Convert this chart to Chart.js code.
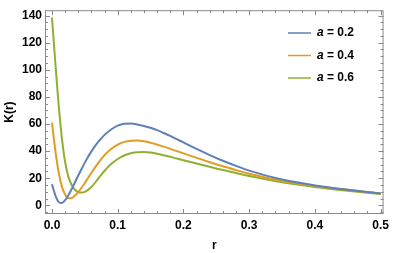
<!DOCTYPE html>
<html>
<head>
<meta charset="utf-8">
<script src="https://cdn.jsdelivr.net/npm/chart.js@4"></script>
<style>
  html, body { margin: 0; padding: 0; background: #fff; }
  #wrap { width: 393px; height: 253px; }
</style>
</head>
<body>
<div id="wrap"><canvas id="grafico"></canvas></div>
<script>
// valores
const rVals = [0, 0.005, 0.01, 0.015, 0.02, 0.025, 0.03, 0.035, 0.04, 0.045, 0.05, 0.06, 0.07, 0.08, 0.09, 0.1,
  0.11, 0.12, 0.13, 0.14, 0.15, 0.16, 0.17, 0.18, 0.19, 0.2, 0.22, 0.24, 0.26, 0.28, 0.3, 0.35, 0.4, 0.45, 0.5];
const kA02 = [15.5, 7.5, 2.6, 1.7, 3.8, 7.5, 12, 17, 22, 26.8, 31.5, 39.8, 46.6, 52, 56, 58.8,
  60.2, 60.4, 59.7, 58.6, 57.2, 55.5, 53.4, 51.2, 48.8, 46.4, 41.6, 37.1, 32.9, 29.1, 25.6, 19, 14.7, 11.5, 8.8];
const kA04 = [61, 41, 25, 14, 8, 5.2, 5.4, 7.2, 9.8, 13, 16.5, 24, 31, 37, 41.5, 44.8,
  46.8, 47.7, 47.8, 47.3, 46.2, 44.8, 43.3, 41.7, 40, 38.3, 35, 31.8, 28.8, 26, 23.3, 18, 14.3, 11.5, 8.7];
const kA06 = [138.5, 106, 75, 50, 32, 21, 15, 11.5, 9.8, 9.4, 9.9, 13.5, 19.5, 25.5, 30.5, 34.2,
  36.8, 38.4, 39.2, 39.3, 38.9, 38.1, 37, 35.8, 34.6, 33.3, 30.8, 28.4, 26, 23.8, 21.6, 17, 13.6, 10.8, 8.3];
const aVals = [0.2, 0.4, 0.6];
const cores = ['#5E81B5', '#E19C24', '#8FB032'];
const xTicks = [0, 0.1, 0.2, 0.3, 0.4, 0.5];
const yTicks = [0, 20, 40, 60, 80, 100, 120, 140];

const FONTE = '"Liberation Sans", Arial, sans-serif';
const series = [kA02, kA04, kA06];

const datasets = series.map((vals, i) => ({
    label: `a = ${aVals[i]}`,
    data: rVals.map((r, j) => ({ x: r, y: vals[j] })),
    borderColor: cores[i],
    borderWidth: 2,
    pointRadius: 0,
    fill: false,
    cubicInterpolationMode: 'monotone'
}));

// --- moldura com ticks internos (estilo Mathematica) ---
const molduraPlugin = {
    id: 'moldura',
    afterDraw(chart) {
        const { ctx, chartArea: a, scales: { x, y } } = chart;
        ctx.save();
        ctx.strokeStyle = '#8a8a8a';
        ctx.lineWidth = 1;
        ctx.strokeRect(a.left + 0.5, a.top + 0.5, a.width - 1, a.height - 1);

        const tickX = (v, len) => {
            const px = Math.round(x.getPixelForValue(v)) + 0.5;
            if (px < a.left || px > a.right) return;
            ctx.beginPath();
            ctx.moveTo(px, a.bottom); ctx.lineTo(px, a.bottom - len);
            ctx.moveTo(px, a.top); ctx.lineTo(px, a.top + len);
            ctx.stroke();
        };
        const tickY = (v, len) => {
            const py = Math.round(y.getPixelForValue(v)) + 0.5;
            if (py < a.top || py > a.bottom) return;
            ctx.beginPath();
            ctx.moveTo(a.left, py); ctx.lineTo(a.left + len, py);
            ctx.moveTo(a.right, py); ctx.lineTo(a.right - len, py);
            ctx.stroke();
        };
        const xStep = xTicks[1] - xTicks[0];
        for (let i = -1; i < xTicks.length; i++) {
            const base = i < 0 ? xTicks[0] - xStep : xTicks[i];
            if (i >= 0) tickX(base, 5);
            for (let k = 1; k < 5; k++) tickX(base + k * xStep / 5, 3);
        }
        const yStep = yTicks[1] - yTicks[0];
        for (let i = -1; i < yTicks.length; i++) {
            const base = i < 0 ? yTicks[0] - yStep : yTicks[i];
            if (i >= 0) tickY(base, 5);
            for (let k = 1; k < 4; k++) tickY(base + k * yStep / 4, 3);
        }

        // legenda
        const linhasY = [33, 55.5, 78];
        chart.data.datasets.forEach((ds, i) => {
            const ly = linhasY[i];
            ctx.strokeStyle = ds.borderColor;
            ctx.lineWidth = 1.5;
            ctx.beginPath();
            ctx.moveTo(288, ly); ctx.lineTo(311, ly);
            ctx.stroke();
            ctx.fillStyle = '#000';
            ctx.textBaseline = 'middle';
            ctx.textAlign = 'left';
            ctx.font = `italic bold 12px ${FONTE}`;
            ctx.fillText('a', 317, ly);
            const w = ctx.measureText('a').width;
            ctx.font = `bold 12px ${FONTE}`;
            ctx.fillText(` = ${aVals[i]}`, 317 + w, ly);
        });
        ctx.restore();
    }
};

new Chart(document.getElementById('grafico'), {
    type: 'line',
    data: { datasets },
    options: {
        responsive: true,
        maintainAspectRatio: false,
        animation: false,
        layout: { padding: { top: 3, right: 7, left: 0, bottom: 0 } },
        plugins: { legend: { display: false }, tooltip: { enabled: false } },
        scales: {
            x: {
                type: 'linear',
                min: -0.0106,
                max: 0.5045,
                grid: { display: false, drawTicks: false },
                border: { display: false },
                afterBuildTicks: s => { s.ticks = xTicks.map(v => ({ value: v })); },
                afterFit: s => { s.height = 39; },
                ticks: {
                    padding: 4,
                    color: '#000',
                    font: { family: FONTE, size: 12, weight: 'bold' },
                    callback: v => v.toFixed(1)
                },
                title: {
                    display: true, text: 'r', color: '#000',
                    font: { family: FONTE, size: 12, weight: 'bold' },
                    padding: { top: 0, bottom: 0 }
                }
            },
            y: {
                type: 'linear',
                min: -6.4,
                max: 144,
                grid: { display: false, drawTicks: false },
                border: { display: false },
                afterBuildTicks: s => { s.ticks = yTicks.map(v => ({ value: v })); },
                afterFit: s => { s.width = 45; },
                ticks: {
                    padding: 3,
                    color: '#000',
                    font: { family: FONTE, size: 12, weight: 'bold' }
                },
                title: {
                    display: true, text: 'K(r)', color: '#000',
                    font: { family: FONTE, size: 12, weight: 'bold' },
                    padding: { top: 2, bottom: 0 }
                }
            }
        }
    },
    plugins: [molduraPlugin]
});
</script>
</body>
</html>
